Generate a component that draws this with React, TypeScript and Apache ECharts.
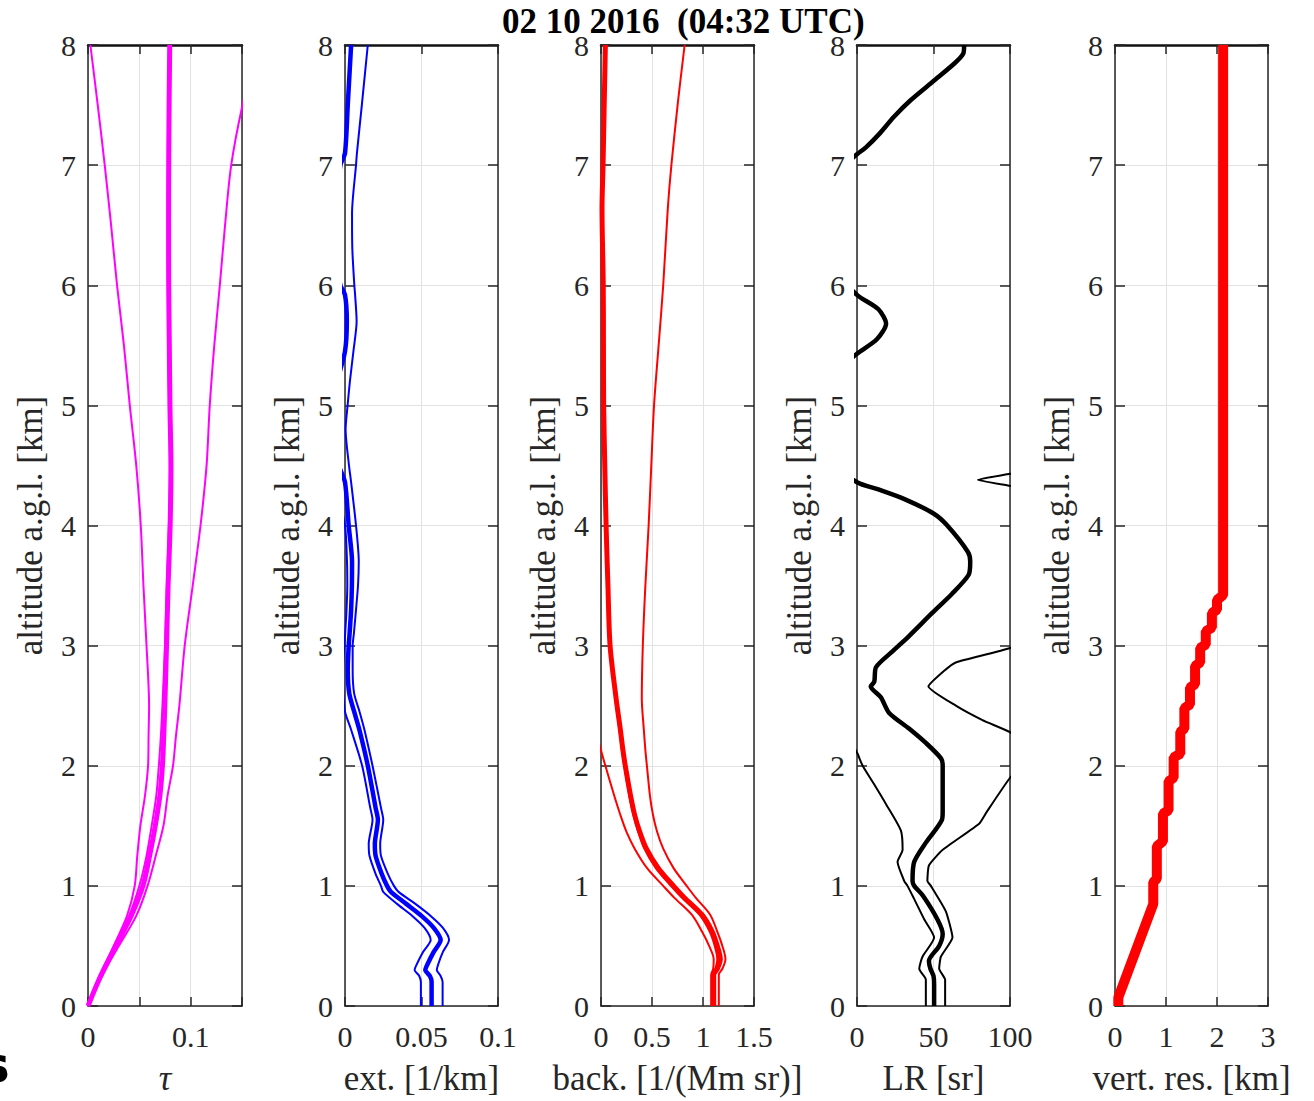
import React, { useEffect, useRef } from 'react';
import * as echarts from 'echarts';

// ---------- data ----------
const TITLE = '02 10 2016 \u00a0(04:32 UTC)';
const Y_LABEL = 'altitude a.g.l. [km]';
const X_LABELS = ['τ', 'ext. [1/km]', 'back. [1/(Mm sr)]', 'LR [sr]', 'vert. res. [km]'];
const X_MIN = [0, 0, 0, 0, 0];
const X_MAX = [0.15, 0.1, 1.5, 100, 3];
const X_STEP = [0.05, 0.05, 0.5, 50, 1];
const Y_MIN = 0;
const Y_MAX = 8;
const Y_STEP = 1;

// panel 1: optical depth
const ALT_TAU = [0, 0.2, 0.35, 0.5, 0.75, 1, 1.25, 1.5, 1.75, 2, 2.25, 2.5, 3, 3.5, 4, 4.5, 5, 5.5, 6, 6.5, 7, 7.5, 8];
const TAU_MEAN = [0, 0.0097, 0.018, 0.027, 0.042, 0.0535, 0.06, 0.0655, 0.07, 0.0725, 0.0738, 0.0748, 0.0765, 0.078, 0.08, 0.0808, 0.0798, 0.0792, 0.0786, 0.0785, 0.0786, 0.079, 0.0796];
const TAU_INNER = [0, 0.0092, 0.0175, 0.026, 0.04, 0.05, 0.057, 0.062, 0.0665, 0.069, 0.071, 0.0725, 0.075, 0.0768, 0.0788, 0.0798, 0.079, 0.0784, 0.0779, 0.0778, 0.0779, 0.0783, 0.0789];
const TAU_LOW = [0, 0.009, 0.017, 0.025, 0.038, 0.0455, 0.048, 0.051, 0.0555, 0.0585, 0.059, 0.0595, 0.057, 0.054, 0.0514, 0.047, 0.0407, 0.035, 0.0283, 0.0225, 0.0163, 0.0095, 0.0023];
const TAU_HIGH = [0, 0.011, 0.02, 0.03, 0.047, 0.058, 0.066, 0.0735, 0.0775, 0.0828, 0.0857, 0.089, 0.0942, 0.102, 0.1096, 0.1155, 0.1186, 0.123, 0.1284, 0.1335, 0.1395, 0.1505, 0.165];

// panel 2: extinction
const ALT_EXT = [0, 0.2, 0.25, 0.3, 0.35, 0.45, 0.55, 0.65, 0.75, 0.85, 0.95, 1.0, 1.1, 1.25, 1.35, 1.55, 1.65, 2.0, 2.3, 2.45, 2.6, 2.8, 3.0, 3.1, 3.3, 3.5, 3.7, 4.0, 4.36, 4.5, 4.8, 5.0, 5.2, 5.45, 5.7, 5.92, 6.0, 6.3, 6.6, 7.0, 7.1, 7.5, 8.0];
const EXT_MEAN = [0.0566, 0.0566, 0.0555, 0.0525, 0.054, 0.058, 0.0625, 0.058, 0.05, 0.04, 0.03, 0.0275, 0.024, 0.02, 0.0195, 0.0215, 0.02, 0.0149, 0.0094, 0.006, 0.0028, 0.0018, 0.0024, 0.003, 0.004, 0.0045, 0.0046, 0.0024, 0.0, -0.004, -0.007, -0.007, -0.005, 0.0, 0.0012, 0.0, -0.003, -0.006, -0.006, -0.003, 0.0, 0.0018, 0.004];
const EXT_HIGH = [0.0638, 0.0638, 0.0625, 0.06, 0.061, 0.064, 0.068, 0.064, 0.056, 0.046, 0.035, 0.032, 0.028, 0.0235, 0.023, 0.025, 0.0235, 0.018, 0.0127, 0.0095, 0.006, 0.005, 0.005, 0.0058, 0.0072, 0.0085, 0.009, 0.0072, 0.004, 0.0026, 0.0004, 0.0017, 0.0032, 0.0055, 0.0076, 0.0066, 0.0061, 0.0048, 0.0046, 0.0072, 0.0078, 0.011, 0.0149];
const EXT_LOW = [0.0496, 0.0496, 0.0485, 0.0455, 0.047, 0.051, 0.056, 0.052, 0.044, 0.034, 0.025, 0.0235, 0.02, 0.016, 0.0155, 0.018, 0.0165, 0.0112, 0.004, 0.0, -0.001, -0.0012, -0.0004, 0.0001, 0.001, 0.0015, 0.0013, 0.0, -0.006, -0.008, -0.01, -0.011, -0.011, -0.01, -0.009, -0.01, -0.01, -0.011, -0.011, -0.01, -0.01, -0.01, -0.009];

// panel 3: backscatter
const ALT_BACK = [0, 0.26, 0.31, 0.39, 0.5, 0.62, 0.76, 0.9, 1.0, 1.15, 1.31, 1.45, 1.59, 1.75, 2.0, 2.13, 2.3, 2.56, 3.0, 3.5, 4.0, 4.5, 5.0, 5.5, 6.0, 6.64, 7.0, 7.53, 8.0];
const BACK_MEAN = [1.105, 1.105, 1.14, 1.17, 1.14, 1.09, 0.99, 0.82, 0.71, 0.56, 0.445, 0.38, 0.33, 0.29, 0.238, 0.215, 0.19, 0.148, 0.089, 0.068, 0.05, 0.037, 0.026, 0.024, 0.022, 0.01, 0.02, 0.032, 0.043];
const BACK_INNER = [1.09, 1.09, 1.12, 1.14, 1.115, 1.065, 0.965, 0.795, 0.685, 0.535, 0.425, 0.365, 0.318, 0.278, 0.228, 0.205, 0.18, 0.14, 0.085, 0.065, 0.046, 0.033, 0.022, 0.02, 0.018, 0.006, 0.016, 0.028, 0.039];
const BACK_LOW = [1.08, 1.08, 1.1, 1.105, 1.06, 0.99, 0.89, 0.72, 0.61, 0.45, 0.33, 0.25, 0.19, 0.13, 0.043, 0.0, -0.05, -0.1, -0.15, -0.2, -0.22, -0.25, -0.27, -0.3, -0.32, -0.35, -0.36, -0.38, -0.4];
const BACK_HIGH = [1.155, 1.155, 1.19, 1.22, 1.19, 1.14, 1.07, 0.93, 0.84, 0.71, 0.61, 0.55, 0.51, 0.48, 0.45, 0.435, 0.42, 0.4, 0.41, 0.435, 0.467, 0.493, 0.52, 0.565, 0.61, 0.655, 0.69, 0.755, 0.82];

// panel 4: lidar ratio
const ALT_LR_MEAN = [0, 0.18, 0.25, 0.31, 0.375, 0.5, 0.6, 0.72, 0.92, 1.0, 1.04, 1.2, 1.36, 1.55, 1.62, 2.0, 2.06, 2.19, 2.31, 2.44, 2.57, 2.66, 2.7, 2.82, 2.95, 3.08, 3.27, 3.43, 3.59, 3.7, 3.78, 4.0, 4.1, 4.22, 4.3, 4.36, 4.6, 5.0, 5.3, 5.43, 5.55, 5.68, 5.8, 5.92, 6.2, 6.6, 7.0, 7.09, 7.15, 7.26, 7.4, 7.54, 7.7, 7.85, 7.93, 8.0];
const LR_MEAN = [50.4, 50.4, 50, 48, 47, 53.7, 56, 52.6, 43, 37.4, 36.3, 37.4, 45, 55.5, 56, 56, 55, 45, 34, 21, 15.6, 9, 11.3, 12.4, 23, 34, 49, 62, 73, 74, 72.5, 59, 50, 31, 14, 0, -25, -30, -12, 0, 13, 19, 14, 0, -20, -30, -8, 0, 6, 14.6, 24, 35, 50, 64, 69.5, 70];
const ALT_LR_LOW = [0, 0.22, 0.31, 0.41, 0.57, 0.72, 0.9, 1.0, 1.04, 1.2, 1.3, 1.46, 1.68, 1.85, 2.0, 2.11, 2.4, 3.0, 5.0, 8.0];
const LR_LOW = [45, 45, 40.7, 42.8, 50.4, 44, 37, 33, 30.9, 26.5, 29.8, 28.7, 19, 11, 3.7, 0, -12, -25, -35, -40];
const ALT_LR_HIGH = [0, 0.22, 0.31, 0.41, 0.57, 0.79, 1.0, 1.04, 1.17, 1.3, 1.52, 1.62, 1.9, 2.0, 2.1, 2.2, 2.28, 2.38, 2.5, 2.66, 2.79, 2.86, 2.98, 3.1, 3.6, 4.3, 4.33, 4.38, 4.43, 4.46, 5.0, 8.0];
const LR_HIGH = [57.6, 57.6, 53.7, 54.8, 62.4, 58, 48.3, 46, 47, 56, 80, 85, 100, 108, 112, 108, 100, 82, 64.6, 46.7, 57, 64.6, 100, 115, 125, 110, 100, 79, 100, 110, 130, 140];

// panel 5: vertical resolution
const ALT_VR = [0, 0.07, 0.85, 1.03, 1.06, 1.33, 1.37, 1.6, 1.63, 1.87, 1.9, 2.07, 2.1, 2.28, 2.31, 2.48, 2.51, 2.65, 2.68, 2.83, 2.86, 2.98, 3.01, 3.12, 3.15, 3.27, 3.3, 3.38, 3.42, 8];
const VR = [0.065, 0.065, 0.75, 0.75, 0.82, 0.82, 0.94, 0.94, 1.05, 1.05, 1.15, 1.15, 1.28, 1.28, 1.36, 1.36, 1.47, 1.47, 1.57, 1.57, 1.67, 1.67, 1.78, 1.78, 1.9, 1.9, 2.0, 2.0, 2.12, 2.12];

// ---------- layout / style ----------
const FONT = "'Liberation Serif', 'Times New Roman', serif";
const INK = '#262626';
const GRID_LEFT = [88, 345, 601, 857, 1115];
const GRID_WIDTH = [154, 153, 153, 153, 153];

const pairs = (xs: number[], hs: number[]) => hs.map((h, i) => [xs[i], h]);

function buildOption() {
  const grid = GRID_LEFT.map((l, i) => ({ left: l, top: 45, width: GRID_WIDTH[i], height: 963 }));
  const xAxis: any[] = [];
  const yAxis: any[] = [];
  for (let i = 0; i < 5; i++) {
    const fmt =
      i === 0
        ? (v: number) => (Math.abs(v) < 1e-9 ? '0' : Math.abs(v - 0.1) < 1e-9 ? '0.1' : '')
        : (v: number) => String(+v.toFixed(4));
    xAxis.push({
      type: 'value', gridIndex: i, position: 'bottom',
      min: X_MIN[i], max: X_MAX[i], interval: X_STEP[i],
      axisLine: { show: true, onZero: false, lineStyle: { color: INK, width: 1.5 } },
      axisTick: { show: true, inside: true, length: 9, lineStyle: { color: INK, width: 1.5 } },
      axisLabel: { show: true, formatter: fmt, fontFamily: FONT, fontSize: 30, color: INK, margin: 15, showMinLabel: true, showMaxLabel: true },
      splitLine: { show: true, lineStyle: { color: '#e2e2e2', width: 1 } },
      name: X_LABELS[i], nameLocation: 'middle', nameGap: 55,
      nameTextStyle: { fontFamily: FONT, fontSize: 35, color: INK, fontStyle: i === 0 ? 'italic' : 'normal' },
    });
    xAxis.push({
      type: 'value', gridIndex: i, position: 'top',
      min: X_MIN[i], max: X_MAX[i], interval: X_STEP[i],
      axisLine: { show: true, onZero: false, lineStyle: { color: '#111', width: 2.5 } },
      axisTick: { show: true, inside: true, length: 9, lineStyle: { color: INK, width: 1.5 } },
      axisLabel: { show: false },
      splitLine: { show: false },
    });
    yAxis.push({
      type: 'value', gridIndex: i, position: 'left',
      min: Y_MIN, max: Y_MAX, interval: Y_STEP,
      axisLine: { show: true, onZero: false, lineStyle: { color: INK, width: 1.5 } },
      axisTick: { show: true, inside: true, length: 10, lineStyle: { color: INK, width: 1.5 } },
      axisLabel: { show: true, fontFamily: FONT, fontSize: 30, color: INK, margin: 12, showMinLabel: true, showMaxLabel: true },
      splitLine: { show: true, lineStyle: { color: '#e2e2e2', width: 1 } },
      name: Y_LABEL, nameLocation: 'middle', nameGap: 40, nameRotate: 90,
      nameTextStyle: { fontFamily: FONT, fontSize: 35, color: INK },
    });
    yAxis.push({
      type: 'value', gridIndex: i, position: 'right',
      min: Y_MIN, max: Y_MAX, interval: Y_STEP,
      axisLine: { show: true, onZero: false, lineStyle: { color: INK, width: 1.5 } },
      axisTick: { show: true, inside: true, length: 10, lineStyle: { color: INK, width: 1.5 } },
      axisLabel: { show: false },
      splitLine: { show: false },
    });
  }

  const line = (panel: number, data: number[][], color: string, width: number, smooth: any) => ({
    type: 'line', xAxisIndex: panel * 2, yAxisIndex: panel * 2, data,
    symbol: 'none', showSymbol: false, smooth, clip: true, silent: true,
    lineStyle: { color, width },
  });

  const MAG = '#ff00ff';
  const BLUE = '#0000ff';
  const RED = '#ff0000';
  const BLK = '#000000';

  const series = [
    line(0, pairs(TAU_LOW, ALT_TAU), MAG, 2, 0.3),
    line(0, pairs(TAU_HIGH, ALT_TAU), MAG, 2, 0.3),
    line(0, pairs(TAU_INNER, ALT_TAU), MAG, 2, 0.3),
    line(0, pairs(TAU_MEAN, ALT_TAU), MAG, 5, 0.3),

    line(1, pairs(EXT_LOW, ALT_EXT), BLUE, 2, 0.25),
    line(1, pairs(EXT_HIGH, ALT_EXT), BLUE, 2, 0.25),
    line(1, pairs(EXT_MEAN, ALT_EXT), BLUE, 4.5, 0.25),

    line(2, pairs(BACK_LOW, ALT_BACK), RED, 2, 0.3),
    line(2, pairs(BACK_HIGH, ALT_BACK), RED, 2, 0.3),
    line(2, pairs(BACK_INNER, ALT_BACK), RED, 2, 0.3),
    line(2, pairs(BACK_MEAN, ALT_BACK), RED, 5, 0.3),

    line(3, pairs(LR_LOW, ALT_LR_LOW), BLK, 2, 0.2),
    line(3, pairs(LR_HIGH, ALT_LR_HIGH), BLK, 2, 0.15),
    line(3, pairs(LR_MEAN, ALT_LR_MEAN), BLK, 4.5, 0.25),

    line(4, pairs(VR, ALT_VR), RED, 10, false),
  ];

  return {
    animation: false,
    backgroundColor: '#ffffff',
    title: {
      text: TITLE, left: 497, top: -1,
      textStyle: { fontFamily: FONT, fontWeight: 'bold', fontSize: 35, color: '#000' },
    },
    grid, xAxis, yAxis, series,
    graphic: [
      {
        type: 'text', left: -20, top: 1040, silent: true,
        style: { text: 's', font: "bold 50px 'DejaVu Sans', sans-serif", fill: '#000' },
      },
    ],
  };
}

export default function App() {
  const ref = useRef<HTMLDivElement>(null);
  useEffect(() => {
    if (!ref.current) return;
    const chart = echarts.init(ref.current, null, { renderer: 'svg' });
    chart.setOption(buildOption() as any);
    return () => chart.dispose();
  }, []);
  return (
    <div
      ref={ref}
      style={{ position: 'absolute', left: 0, top: 0, width: 1314, height: 1101, background: '#fff' }}
    />
  );
}
